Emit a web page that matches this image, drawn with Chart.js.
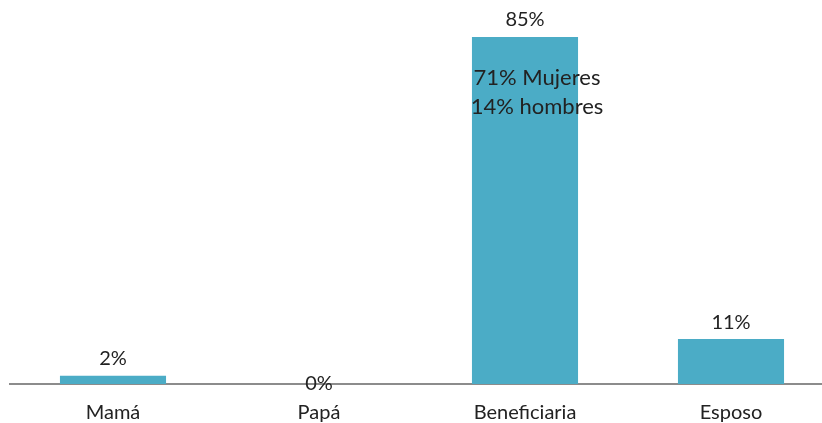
<!DOCTYPE html>
<html>
<head>
<meta charset="utf-8">
<script src="https://cdn.jsdelivr.net/npm/chart.js"></script>
<style>
  html, body { margin: 0; padding: 0; background: #fff; overflow: hidden; }
  #wrap { width: 834px; height: 423px; }
</style>
</head>
<body>
<div id="wrap"><canvas id="chart" width="834" height="423"></canvas></div>
<script>
const categories = ["Mamá", "Papá", "Beneficiaria", "Esposo"];
const values = [2, 0, 85, 11];
// breakdown written inside the tallest bar
const noteLines = ["71% Mujeres", "14% hombres"];
const noteIndex = 2;

const FONT = "Lato, 'Open Sans', sans-serif";

// percentage labels above each bar plus the breakdown text
const valueLabels = {
  id: "valueLabels",
  afterDatasetsDraw(chart) {
    const ctx = chart.ctx;
    const meta = chart.getDatasetMeta(0);
    const yScale = chart.scales.y;
    ctx.save();
    ctx.fillStyle = "#222";
    ctx.textAlign = "center";
    ctx.textBaseline = "middle";
    ctx.font = "20px " + FONT;
    meta.data.forEach((bar, i) => {
      const v = values[i];
      const y = v === 0 ? yScale.getPixelForValue(0) : bar.y - 17;
      ctx.fillText(v + "%", bar.x, y);
    });
    const b = meta.data[noteIndex];
    ctx.font = "22px " + FONT;
    noteLines.forEach((line, k) => {
      ctx.fillText(line, b.x + 12, b.y + 41 + k * 29);
    });
    ctx.restore();
  }
};

new Chart(document.getElementById("chart"), {
  type: "bar",
  data: {
    labels: categories,
    datasets: [{
      data: values,
      backgroundColor: "#4BACC6",
      categoryPercentage: 1,
      barPercentage: 0.515
    }]
  },
  options: {
    responsive: false,
    animation: false,
    layout: { padding: { top: 37, left: 10, right: 0, bottom: 0 } },
    plugins: { legend: { display: false }, tooltip: { enabled: false } },
    scales: {
      x: {
        grid: { display: false, drawTicks: false },
        border: { display: true, color: "#8c8c8c", width: 2 },
        ticks: { color: "#222", padding: 17, font: { family: FONT, size: 20 } },
        afterFit(s) { s.height = 39; }
      },
      y: {
        display: false,
        min: 0,
        max: 85
      }
    }
  },
  plugins: [valueLabels]
});
</script>
</body>
</html>
